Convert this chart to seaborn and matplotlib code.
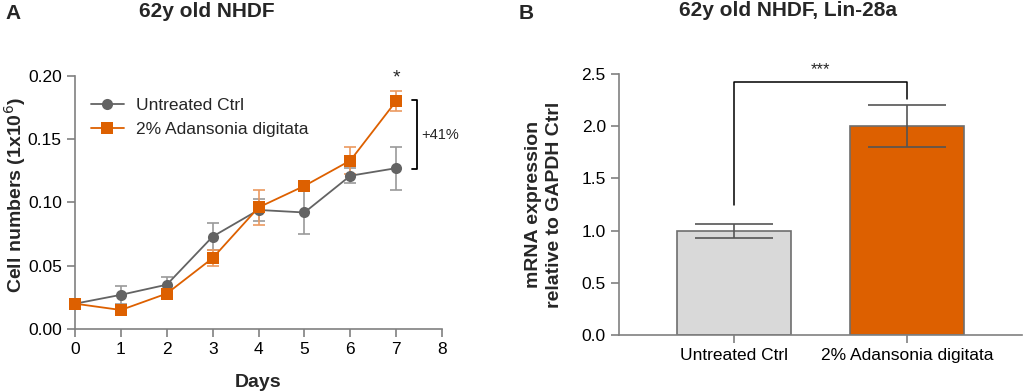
import matplotlib
matplotlib.use('Agg')
import matplotlib.pyplot as plt
import seaborn as sns
import pandas as pd
import numpy as np

sns.set_style("ticks")
plt.rcParams['font.family'] = ['Liberation Sans', 'DejaVu Sans']

# panel A data: growth curve
days = [0, 1, 2, 3, 4, 5, 6, 7]
ctrl_mean = [0.020, 0.027, 0.035, 0.073, 0.094, 0.092, 0.121, 0.127]
ctrl_err = [0.002, 0.007, 0.006, 0.011, 0.009, 0.017, 0.006, 0.017]
treat_mean = [0.020, 0.015, 0.028, 0.056, 0.096, 0.113, 0.133, 0.180]
treat_err = [0.002, 0.003, 0.002, 0.006, 0.014, 0.003, 0.011, 0.008]
series_names = ["Untreated Ctrl", "2% Adansonia digitata"]

# panel B data: Lin-28a expression
groups = ["Untreated Ctrl", "2% Adansonia digitata"]
expr_mean = [1.0, 2.0]
expr_err = [0.067, 0.20]

grey = "#636363"
orange = "#DD6000"
axis_col = "#808080"

fig = plt.figure(figsize=(10.24, 3.92), dpi=100)
axA = fig.add_axes([0.0733, 0.1607, 0.3584, 0.6462])
axB = fig.add_axes([0.6045, 0.1454, 0.3936, 0.6658])

# ---- panel A
df = pd.DataFrame({
    "Days": days * 2,
    "value": ctrl_mean + treat_mean,
    "err": ctrl_err + treat_err,
    "group": [series_names[0]] * len(days) + [series_names[1]] * len(days),
})
palette = {series_names[0]: grey, series_names[1]: orange}
errcol = {series_names[0]: "#9a9a9a", series_names[1]: "#EB9A60"}
for g, sub in df.groupby("group", sort=False):
    axA.errorbar(sub["Days"], sub["value"], yerr=sub["err"], fmt="none",
                 ecolor=errcol[g], elinewidth=1.2, capsize=4, capthick=1.2,
                 clip_on=False, zorder=2)
sns.lineplot(data=df, x="Days", y="value", hue="group", style="group",
             palette=palette, markers={series_names[0]: "o", series_names[1]: "s"},
             dashes=False, markersize=8, markeredgewidth=0, linewidth=1.3,
             ax=axA, clip_on=False, zorder=3)
axA.set_xlim(0, 8)
axA.set_ylim(0, 0.20)
axA.set_xticks(range(0, 9))
axA.set_yticks([0, 0.05, 0.10, 0.15, 0.20])
axA.set_yticklabels(["0.00", "0.05", "0.10", "0.15", "0.20"])
axA.set_xlabel("Days", fontsize=14, fontweight="bold", labelpad=12)
axA.set_ylabel("Cell numbers (1x10$^6$)", fontsize=14, fontweight="bold")
axA.yaxis.set_label_coords(-0.128, 0.53)
axA.legend(loc="upper left", bbox_to_anchor=(0.0, 0.975), frameon=False,
           fontsize=12.5, handlelength=1.9, handletextpad=0.7,
           labelspacing=0.5, title=None)
sns.despine(ax=axA)
for sp in ["left", "bottom"]:
    axA.spines[sp].set_color(axis_col)
    axA.spines[sp].set_linewidth(1.2)
axA.tick_params(colors=axis_col, labelcolor="black", labelsize=12.5, width=1.2, length=6)
axA.set_title("62y old NHDF", fontsize=15, fontweight="bold", pad=42, x=0.36)
# significance bracket at day 7
axA.plot([7.35, 7.45, 7.45, 7.35], [treat_mean[7] + 0.001, treat_mean[7] + 0.001,
         ctrl_mean[7] - 0.001, ctrl_mean[7] - 0.001], color="black", lw=1.3, clip_on=False)
axA.text(7.55, (treat_mean[7] + ctrl_mean[7]) / 2, "+41%", fontsize=10.5, va="center")
axA.text(7, 0.198, "*", fontsize=14, ha="center", va="center")
fig.text(0.005, 0.965, "A", fontsize=15, fontweight="bold", va="center")

# ---- panel B
dfb = pd.DataFrame({"group": groups, "value": expr_mean, "err": expr_err})
sns.barplot(data=dfb, x="group", y="value", hue="group",
            palette=["#D9D9D9", orange], saturation=1, width=0.66,
            edgecolor="#6e6e6e", linewidth=1.2, ax=axB, legend=False, errorbar=None)
axB.errorbar(range(len(groups)), expr_mean, yerr=expr_err, fmt="none",
             ecolor="#555555", elinewidth=1.2, capsize=28, capthick=1.2, zorder=5)
axB.set_xlim(-0.665, 1.665)
axB.set_ylim(0, 2.5)
axB.set_yticks([0, 0.5, 1.0, 1.5, 2.0, 2.5])
axB.set_xlabel("")
axB.set_ylabel("mRNA expression\nrelative to GAPDH Ctrl", fontsize=14,
               fontweight="bold", linespacing=1.3)
axB.yaxis.set_label_coords(-0.14, 0.5)
sns.despine(ax=axB)
for sp in ["left", "bottom"]:
    axB.spines[sp].set_color(axis_col)
    axB.spines[sp].set_linewidth(1.2)
axB.tick_params(colors=axis_col, labelcolor="black", labelsize=12.5, width=1.2, length=6)
axB.set_title("62y old NHDF, Lin-28a", fontsize=15, fontweight="bold", pad=42, x=0.42)
axB.plot([0, 0, 1, 1], [1.25, 2.42, 2.42, 2.26], color="black", lw=1.1)
axB.text(0.5, 2.47, "***", fontsize=12, ha="center", va="bottom")
fig.text(0.506, 0.965, "B", fontsize=15, fontweight="bold", va="center")

fig.savefig("out.png", dpi=100)
